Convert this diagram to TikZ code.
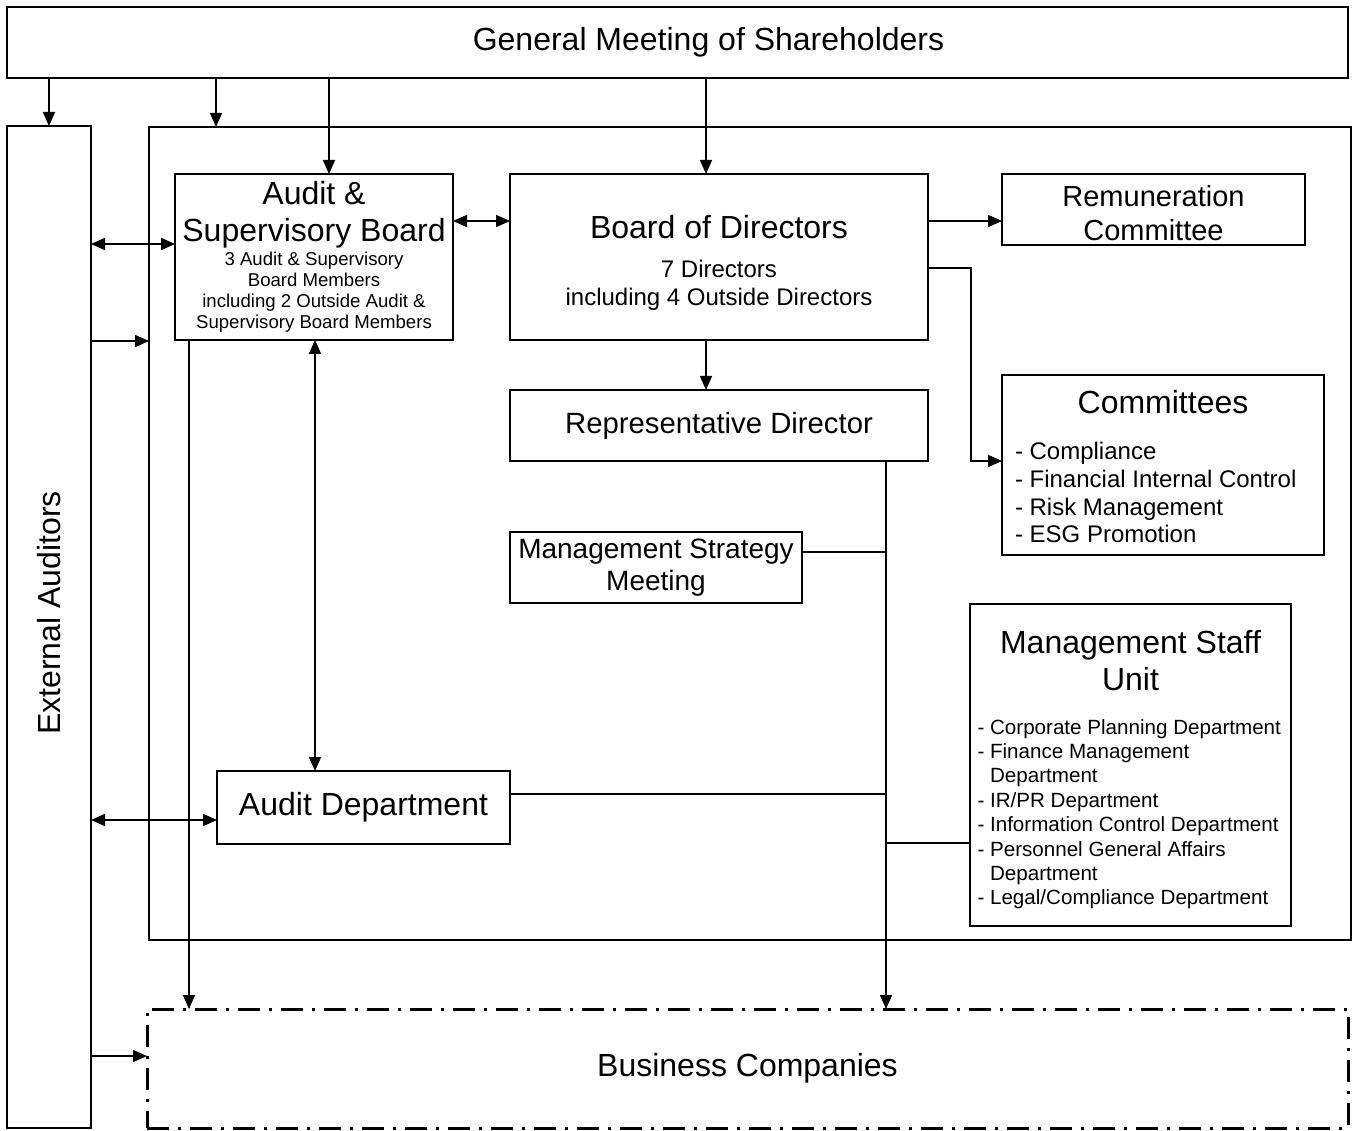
\documentclass[tikz,border=0pt]{standalone}
\usepackage{fontspec}
\setmainfont{Liberation Sans}
\usepackage{graphicx}
\usetikzlibrary{arrows.meta}

\begin{document}
\begin{tikzpicture}[x=1pt, y=-1pt, >={Triangle[length=14pt,width=12pt]},
    box/.style={draw, line width=2.6pt, inner sep=0pt, outer sep=0pt, align=flush center},
    big/.style={font=\fontsize{32}{37}\selectfont},
    conn/.style={line width=1.6pt}]

\useasboundingbox (0,0) rectangle (1357,1131);

\node[box, big, minimum width=1341pt, minimum height=71pt] (gm) at (677.5,42.5) {\hspace*{62pt}General Meeting of Shareholders};
\node[box, big, minimum width=84pt, minimum height=1002pt] (ext) at (49,627) {\rotatebox{90}{\hspace*{28pt}External Auditors}};
\node[draw, line width=2.2pt, outer sep=0pt, minimum width=1202pt, minimum height=813pt] (frame) at (750,533.5) {};

\node[box, text width=270pt, minimum width=278pt, minimum height=166pt, font=\fontsize{18.6}{21}\selectfont] (asb) at (314,257)
  {{\fontsize{32}{37}\selectfont Audit \&\\Supervisory Board\par}\vspace{3pt}3 Audit \& Supervisory\\Board Members\\including 2 Outside Audit \&\\Supervisory Board Members};
\node[box, text width=400pt, minimum width=418pt, minimum height=166pt, font=\fontsize{24}{28}\selectfont] (bod) at (719,257)
  {{\fontsize{32}{37}\selectfont\rule{0pt}{35pt}Board of Directors\par}\vspace{11pt}7 Directors\\including 4 Outside Directors};
\node[box, minimum width=303pt, minimum height=71pt, font=\fontsize{29}{34}\selectfont] (rem) at (1153.5,209.5) {\rule{0pt}{29pt}Remuneration\\Committee};
\node[box, align=flush left, text width=296pt, minimum width=322pt, minimum height=180pt, font=\fontsize{24}{27.7}\selectfont] (comm) at (1163,465)
  {\makebox[\linewidth]{\fontsize{32}{37}\selectfont\rule{0pt}{27pt}Committees}\\[18pt]- Compliance\\- Financial Internal Control\\- Risk Management\\- ESG Promotion};
\node[box, minimum width=418pt, minimum height=71pt, font=\fontsize{29.3}{34}\selectfont] (rep) at (719,425.5) {Representative Director};
\node[box, minimum width=292pt, minimum height=71pt, font=\fontsize{28}{32}\selectfont] (msm) at (656,567.5) {Management Strategy\\Meeting};
\node[box, align=flush left, text width=306pt, minimum width=321pt, minimum height=322pt, font=\fontsize{20.6}{24.4}\selectfont] (msu) at (1130.5,765)
  {\makebox[\linewidth]{\fontsize{32}{37}\selectfont\rule{0pt}{33pt}Management Staff}\\[6pt]\makebox[\linewidth]{\fontsize{32}{37}\selectfont Unit}\\[19pt]%
   - Corporate Planning Department\\- Finance Management\\\hphantom{- }Department\\- IR/PR Department\\- Information Control Department\\%
   - Personnel General Affairs\\\hphantom{- }Department\\- Legal/Compliance Department};
\node[box, big, minimum width=293pt, minimum height=73pt] (auditdept) at (363.5,807.5) {Audit Department};
\node[draw, line width=3pt, outer sep=0pt, dash pattern=on 22pt off 9pt on 3pt off 9pt, big, minimum width=1201pt, minimum height=119pt] (biz) at (747.5,1068.5) {Business Companies};

\coordinate (trunk) at (886,0);

% from the general meeting
\draw[conn,->] (gm.south -| ext.north) -- (ext.north);
\draw[conn,->] (gm.south -| 216,0) -- (frame.north -| 216,0);
\draw[conn,->] (gm.south -| 329,0) -- (asb.north -| 329,0);
\draw[conn,->] (gm.south -| 706,0) -- (bod.north -| 706,0);

% auditors
\draw[conn,<->] (asb.east |- 0,221) -- (bod.west |- 0,221);
\draw[conn,<->] (ext.east |- 0,244) -- (asb.west |- 0,244);
\draw[conn,->] (ext.east |- 0,341) -- (frame.west |- 0,341);
\draw[conn,<->] (asb.south -| 315,0) -- (auditdept.north -| 315,0);
\draw[conn,<->] (ext.east |- 0,820) -- (auditdept.west |- 0,820);
\draw[conn,->] (ext.east |- 0,1056) -- (biz.west |- 0,1056);
\draw[conn,->] (asb.south -| 189,0) -- (biz.north -| 189,0);

% board
\draw[conn,->] (bod.south -| 706,0) -- (rep.north -| 706,0);
\draw[conn,->] (bod.east |- 0,221) -- (rem.west |- 0,221);
\draw[conn,->] (bod.east |- 0,268) -| (971,461) -- (comm.west |- 0,461);

% execution line
\draw[conn,->] (rep.south -| trunk) -- (biz.north -| trunk);
\draw[conn] (msm.east |- 0,552) -- (trunk |- 0,552);
\draw[conn] (auditdept.east |- 0,794) -- (trunk |- 0,794);
\draw[conn] (trunk |- 0,843) -- (msu.west |- 0,843);

\end{tikzpicture}
\end{document}
